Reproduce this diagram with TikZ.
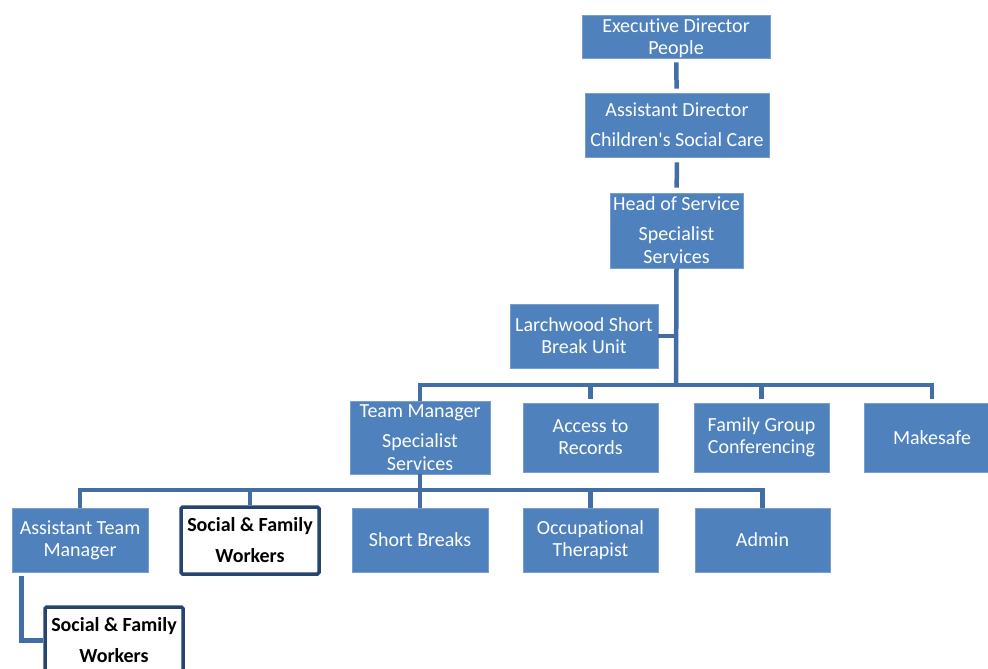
\documentclass[tikz,border=0pt]{standalone}
\usepackage{fontspec}
\setmainfont[Ligatures=NoCommon]{Carlito}
\definecolor{boxfill}{RGB}{79,129,189}
\definecolor{boxedge}{RGB}{120,158,205}
\definecolor{linkblue}{RGB}{66,110,165}
\definecolor{darkedge}{RGB}{38,68,112}
\tikzset{
	box/.style={draw=boxedge, line width=.8pt, fill=boxfill, text=white, inner sep=0pt, align=center, font=\fontsize{20}{22}\selectfont},
	wbox/.style={draw=darkedge, line width=3.5pt, fill=white, text=black, rounded corners=1.5pt, inner sep=0pt, align=center, font=\bfseries\fontsize{20}{31}\selectfont},
	link/.style={draw=linkblue, line width=4.5pt},
}
\begin{document}
\begin{tikzpicture}[x=1pt,y=-1pt]
	\useasboundingbox (0,0) rectangle (988,669);
	% top of the chart
	\node[box, minimum width=188pt, minimum height=43pt, text depth=-3pt] (exec) at (676,36.5) {Executive Director\\People};
	\node[box, minimum width=184pt, minimum height=64pt, font=\fontsize{20}{30}\selectfont] (asst) at (677,125) {Assistant Director\\Children\textquotesingle s Social Care};
	\node[box, minimum width=133pt, minimum height=75pt, font=\fontsize{20}{23}\selectfont] (head) at (676.5,230.5) {Head of Service\\[7pt]Specialist\\Services};
	\node[box, minimum width=148pt, minimum height=64pt] (larch) at (584,336) {Larchwood Short\\Break Unit};
	% second row
	\node[box, minimum width=140pt, minimum height=73pt, font=\fontsize{20}{23}\selectfont] (team) at (420,437.5) {Team Manager\\[7pt]Specialist\\Services};
	\node[box, minimum width=135pt, minimum height=69pt] (access) at (590.5,437.5) {Access to\\Records};
	\node[box, minimum width=135pt, minimum height=69pt] (family) at (761.5,437.5) {Family Group\\Conferencing};
	\node[box, minimum width=136pt, minimum height=69pt] (make) at (932,437.5) {Makesafe};
	% third row
	\node[box, minimum width=136pt, minimum height=64pt] (atm) at (80,540) {Assistant Team\\Manager};
	\node[wbox, minimum width=138pt, minimum height=67pt] (sfw1) at (250,540.5) {Social \& Family\\Workers};
	\node[box, minimum width=136pt, minimum height=64pt] (short) at (420,540) {Short Breaks};
	\node[box, minimum width=135pt, minimum height=64pt] (ot) at (590.5,540) {Occupational\\Therapist};
	\node[box, minimum width=135pt, minimum height=64pt] (admin) at (762.5,540) {Admin};
	\node[wbox, minimum width=138pt, minimum height=67pt] (sfw2) at (114,640.5) {Social \& Family\\Workers};

	\coordinate (bus1) at (676,385);
	\coordinate (bus2) at (420,490);

	\draw[link, shorten <=4pt, shorten >=4pt] (exec) -- (asst);
	\draw[link, shorten <=5pt, shorten >=5pt] (asst) -- (head);
	\draw[link] (head.south) -- (bus1);
	\draw[link] (larch.east) -- (larch.east -| head.south);
	\draw[link] (bus1) -| (team.north);
	\draw[link, shorten >=4pt] (bus1) -| (make.north);
	\foreach \n in {access,family}
		\draw[link, shorten >=4pt] (\n.north |- bus1) -- (\n.north);
	\draw[link] (team.south) -- (bus2);
	\draw[link] (bus2) -| (atm.north);
	\draw[link] (bus2) -| (admin.north);
	\foreach \n in {sfw1,short,ot}
		\draw[link] (\n.north |- bus2) -- (\n.north);
	\draw[link, shorten <=4pt] ([xshift=10pt]atm.south west) |- (sfw2.west);
\end{tikzpicture}
\end{document}
